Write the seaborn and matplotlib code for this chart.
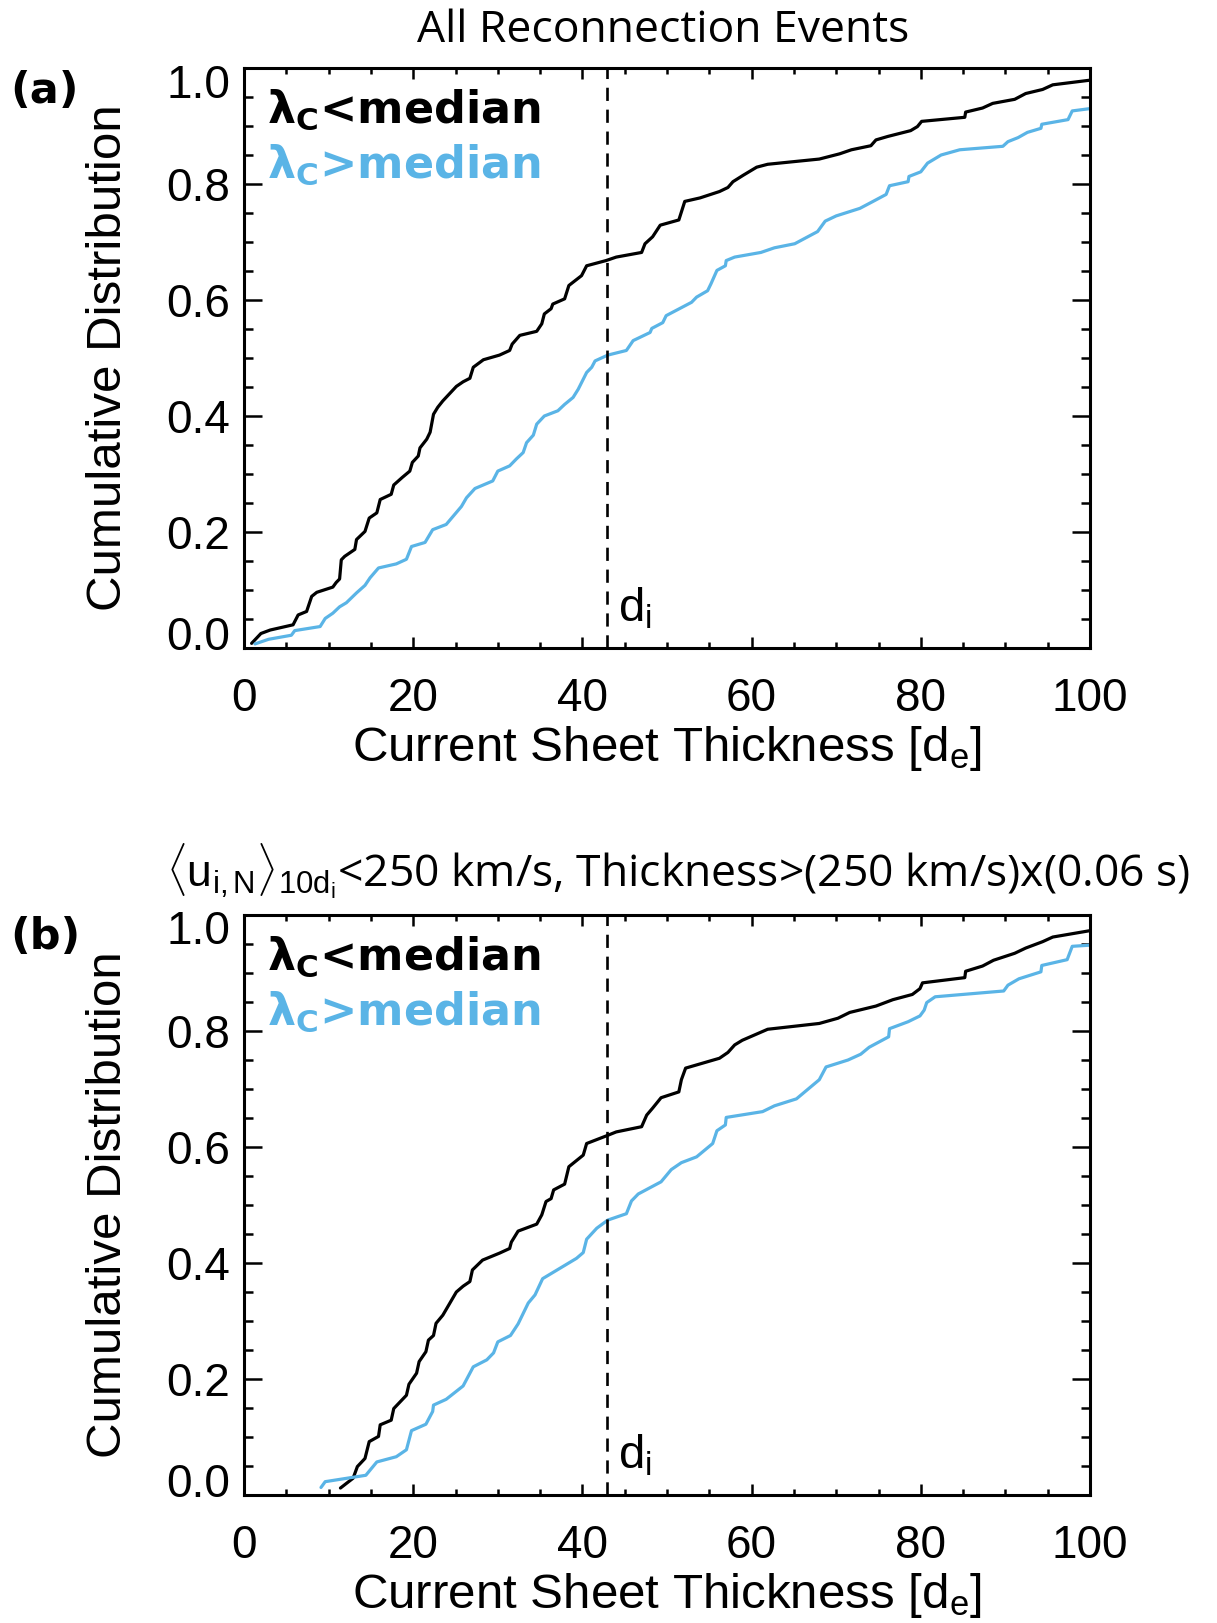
import matplotlib
matplotlib.use("Agg")
import matplotlib.pyplot as plt
from matplotlib.ticker import MultipleLocator, FixedLocator
from matplotlib.transforms import ScaledTranslation
import seaborn as sns
import pandas as pd

# ---------------- data ----------------
DI = 42.85  # ion inertial length in units of d_e

a_low_x = [0.9, 2.0, 3.1, 5.8, 6.4, 7.4, 8.0, 8.6, 10.5, 10.9,
           11.3, 11.5, 11.9, 13.1, 13.3, 14.3, 14.8, 15.7, 16.1, 17.4,
           17.7, 18.7, 19.6, 19.9, 20.6, 20.8, 21.6, 22.0, 22.4, 22.9,
           23.5, 25.1, 25.9, 26.7, 27.1, 28.3, 30.2, 31.4, 31.7, 32.6,
           34.6, 35.2, 35.5, 36.3, 36.5, 37.9, 38.4, 39.9, 40.5, 42.8,
           44.0, 47.0, 47.4, 48.3, 49.2, 51.4, 52.1, 53.9, 56.2, 57.2,
           57.8, 59.0, 60.6, 61.9, 68.0, 70.4, 71.8, 74.1, 74.7, 76.1,
           78.8, 79.6, 80.1, 85.2, 85.3, 87.3, 88.5, 91.1, 92.4, 94.4,
           95.6, 100.0]
a_low_y = [0.008, 0.025, 0.031, 0.040, 0.057, 0.063, 0.089, 0.096, 0.105, 0.113,
           0.119, 0.152, 0.158, 0.170, 0.187, 0.201, 0.224, 0.233, 0.256, 0.265,
           0.281, 0.294, 0.305, 0.320, 0.331, 0.345, 0.360, 0.372, 0.403, 0.415,
           0.426, 0.451, 0.459, 0.465, 0.484, 0.497, 0.505, 0.513, 0.524, 0.539,
           0.546, 0.559, 0.576, 0.585, 0.593, 0.602, 0.625, 0.642, 0.659, 0.668,
           0.674, 0.682, 0.697, 0.709, 0.729, 0.738, 0.770, 0.776, 0.787, 0.794,
           0.804, 0.815, 0.829, 0.834, 0.843, 0.852, 0.859, 0.866, 0.876, 0.882,
           0.892, 0.899, 0.908, 0.915, 0.924, 0.931, 0.939, 0.946, 0.956, 0.963,
           0.971, 0.979]

a_high_x = [1.3, 2.9, 5.6, 6.0, 9.0, 9.6, 10.5, 11.3, 12.1, 13.3,
            14.3, 14.9, 15.9, 18.0, 19.2, 19.8, 21.4, 22.3, 23.9, 25.7,
            26.3, 27.3, 29.4, 30.0, 31.4, 32.2, 33.0, 33.4, 34.2, 34.6,
            35.5, 37.1, 37.9, 38.9, 39.5, 40.5, 41.1, 41.5, 43.0, 45.2,
            46.0, 48.0, 48.2, 49.5, 49.9, 52.9, 53.5, 54.8, 55.2, 55.9,
            56.9, 57.0, 58.0, 61.1, 62.7, 65.1, 67.8, 68.7, 70.0, 72.8,
            74.1, 75.9, 76.3, 78.5, 78.6, 80.0, 80.8, 82.4, 84.6, 89.7,
            90.3, 91.5, 92.6, 94.2, 94.3, 97.4, 97.9, 100.0]
a_high_y = [0.007, 0.015, 0.022, 0.030, 0.037, 0.051, 0.060, 0.071, 0.078, 0.095,
            0.108, 0.121, 0.138, 0.145, 0.153, 0.175, 0.182, 0.204, 0.213, 0.244,
            0.259, 0.275, 0.288, 0.305, 0.314, 0.326, 0.337, 0.354, 0.367, 0.386,
            0.400, 0.409, 0.420, 0.432, 0.446, 0.475, 0.484, 0.495, 0.505, 0.513,
            0.530, 0.544, 0.551, 0.561, 0.573, 0.596, 0.605, 0.616, 0.628, 0.651,
            0.659, 0.668, 0.674, 0.682, 0.690, 0.697, 0.718, 0.736, 0.745, 0.758,
            0.768, 0.782, 0.797, 0.804, 0.813, 0.821, 0.836, 0.850, 0.859, 0.865,
            0.873, 0.880, 0.889, 0.896, 0.903, 0.911, 0.926, 0.930]

b_low_x = [11.4, 12.9, 13.4, 14.3, 14.8, 15.9, 16.1, 17.4, 17.7, 19.2,
           19.5, 20.4, 20.7, 21.5, 21.8, 22.4, 22.7, 23.5, 25.1, 25.9,
           26.7, 27.0, 28.2, 30.2, 31.4, 31.6, 32.4, 34.6, 35.2, 35.7,
           36.3, 36.6, 37.9, 38.4, 40.1, 40.5, 42.8, 44.0, 47.0, 47.6,
           48.3, 49.3, 51.4, 51.7, 52.2, 56.2, 57.2, 58.0, 58.9, 61.9,
           68.0, 70.2, 71.6, 74.7, 76.7, 79.0, 79.9, 80.2, 85.2, 85.3,
           87.3, 88.6, 91.1, 92.4, 94.4, 95.6, 100.0]
b_low_y = [0.012, 0.029, 0.049, 0.063, 0.092, 0.101, 0.121, 0.129, 0.149, 0.172,
           0.191, 0.210, 0.230, 0.247, 0.267, 0.275, 0.296, 0.310, 0.350, 0.360,
           0.368, 0.388, 0.405, 0.417, 0.425, 0.436, 0.455, 0.467, 0.483, 0.506,
           0.511, 0.526, 0.536, 0.566, 0.586, 0.606, 0.619, 0.626, 0.635, 0.655,
           0.667, 0.685, 0.695, 0.716, 0.736, 0.753, 0.763, 0.776, 0.784, 0.803,
           0.813, 0.822, 0.832, 0.843, 0.854, 0.863, 0.873, 0.883, 0.892, 0.903,
           0.912, 0.922, 0.934, 0.943, 0.954, 0.962, 0.973]

b_high_x = [9.1, 9.6, 14.4, 15.7, 18.0, 19.2, 19.8, 21.5, 22.3, 22.4,
            23.9, 25.9, 27.1, 28.7, 29.5, 30.0, 31.5, 32.4, 33.6, 34.4,
            35.3, 39.3, 40.1, 40.5, 41.7, 43.0, 45.2, 45.8, 46.6, 49.3,
            50.5, 51.7, 53.5, 55.4, 55.9, 56.9, 57.0, 61.3, 62.7, 65.3,
            68.0, 68.8, 71.4, 72.9, 73.9, 76.2, 76.3, 78.5, 79.9, 80.4,
            80.7, 81.7, 89.8, 90.3, 91.6, 94.2, 94.3, 97.3, 97.9, 100.0]
b_high_y = [0.013, 0.023, 0.034, 0.057, 0.066, 0.078, 0.111, 0.122, 0.144, 0.155,
            0.165, 0.188, 0.221, 0.233, 0.245, 0.264, 0.275, 0.295, 0.331, 0.345,
            0.373, 0.408, 0.418, 0.441, 0.460, 0.474, 0.485, 0.507, 0.519, 0.540,
            0.561, 0.573, 0.583, 0.606, 0.628, 0.638, 0.651, 0.661, 0.671, 0.683,
            0.716, 0.738, 0.750, 0.760, 0.772, 0.790, 0.804, 0.816, 0.826, 0.836,
            0.849, 0.859, 0.869, 0.879, 0.890, 0.902, 0.913, 0.923, 0.946, 0.948]

x_ticks = [0, 20, 40, 60, 80, 100]
y_ticks = [0.0, 0.2, 0.4, 0.6, 0.8, 1.0]
y_ticklabels = ["0.0", "0.2", "0.4", "0.6", "0.8", "1.0"]

title_a = "All Reconnection Events"
title_b = (r"$\langle\mathrm{u_{i,N}}\rangle_{\mathrm{10d_i}}$"
           "<250 km/s, Thickness>(250 km/s)x(0.06 s)")
xlabel = r"Current Sheet Thickness [d$_\mathrm{e}$]"
ylabel = "Cumulative Distribution"
legend_low = r"λ$_\mathdefault{C}$<median"
legend_high = r"λ$_\mathdefault{C}$>median"

BLUE = "#5AB4E6"

# ---------------- style ----------------
sns.set_style("ticks")
plt.rcParams["font.family"] = ["Liberation Sans", "DejaVu Sans"]
plt.rcParams["mathtext.fontset"] = "custom"
plt.rcParams["mathtext.rm"] = "Liberation Sans"
plt.rcParams["mathtext.it"] = "Liberation Sans"
plt.rcParams["mathtext.bf"] = "Liberation Sans:bold"
for key in ["text.color", "axes.labelcolor", "xtick.color", "ytick.color",
            "axes.edgecolor"]:
    plt.rcParams[key] = "black"

fig = plt.figure(figsize=(12.17, 16.23), dpi=100)
W, H = 1217.0, 1623.0
ax_a = fig.add_axes([244 / W, 1 - 648 / H, 846 / W, 580 / H])
ax_b = fig.add_axes([244 / W, 1 - 1495 / H, 846 / W, 580 / H])


def draw_panel(ax, lx, ly, hx, hy):
    d_low = pd.DataFrame({"thickness": lx, "cdf": ly})
    d_high = pd.DataFrame({"thickness": hx, "cdf": hy})
    sns.lineplot(data=d_low, x="thickness", y="cdf", ax=ax, color="black",
                 sort=False, estimator=None, linewidth=2.3)
    sns.lineplot(data=d_high, x="thickness", y="cdf", ax=ax, color=BLUE,
                 sort=False, estimator=None, linewidth=2.3)
    ax.axvline(DI, color="black", linewidth=1.9, linestyle=(0, (5, 3.3)))
    ax.set_xlim(0, 100)
    ax.set_ylim(0, 1)
    ax.xaxis.set_major_locator(FixedLocator(x_ticks))
    ax.xaxis.set_minor_locator(MultipleLocator(5))
    ax.yaxis.set_major_locator(FixedLocator(y_ticks))
    ax.yaxis.set_minor_locator(MultipleLocator(0.05))
    ax.set_yticklabels(y_ticklabels)
    ax.tick_params(which="both", direction="in", top=True, right=True,
                   width=1.8, colors="black")
    ax.tick_params(axis="x", which="major", length=8, pad=21, labelsize=33)
    ax.tick_params(axis="x", which="minor", length=4)
    ax.tick_params(axis="y", which="major", length=12.7, pad=10, labelsize=33)
    ax.tick_params(axis="y", which="minor", length=6.5)
    for sp in ax.spines.values():
        sp.set_linewidth(2.2)
        sp.set_color("black")
    ax.set_xlabel(xlabel, fontsize=35.5, va="center")
    ax.xaxis.set_label_coords(0.5, -0.173)
    ax.set_ylabel(ylabel, fontsize=35.5, va="center")
    ax.yaxis.set_label_coords(-0.16, 0.5)
    ax.text(0.027, 0.928, legend_low, transform=ax.transAxes, fontsize=32,
            fontweight="bold", color="black", va="center", ha="left",
            family=["DejaVu Sans"])
    ax.text(0.027, 0.833, legend_high, transform=ax.transAxes, fontsize=32,
            fontweight="bold", color=BLUE, va="center", ha="left",
            family=["DejaVu Sans"])
    ax.text(DI + 1.4, 0.068, r"d$_\mathrm{i}$", fontsize=34, va="center",
            ha="left", color="black")


draw_panel(ax_a, a_low_x, a_low_y, a_high_x, a_high_y)
draw_panel(ax_b, b_low_x, b_low_y, b_high_x, b_high_y)

# end tick labels nudged inward, as in the reference
for ax in (ax_a, ax_b):
    labs = ax.get_yticklabels()
    labs[0].set_va("center_baseline")
    labs[0].set_transform(labs[0].get_transform() +
                          ScaledTranslation(0, 10.5 / 72, fig.dpi_scale_trans))
    labs[-1].set_va("center_baseline")
    labs[-1].set_transform(labs[-1].get_transform() +
                           ScaledTranslation(0, -9 / 72, fig.dpi_scale_trans))

fig.text(663 / W, 1 - 31 / H, title_a, fontsize=32, ha="center", va="center",
         family=["Open Sans", "DejaVu Sans"])
fig.text(678 / W, 1 - 871 / H, title_b, fontsize=32, ha="center", va="center",
         family=["Open Sans", "DejaVu Sans"])
fig.text(10 / W, 1 - 91 / H, "(a)", fontsize=31, fontweight="bold",
         ha="left", va="center", family=["DejaVu Sans"])
fig.text(10 / W, 1 - 937 / H, "(b)", fontsize=31, fontweight="bold",
         ha="left", va="center", family=["DejaVu Sans"])

fig.savefig("out.png", dpi=100)
